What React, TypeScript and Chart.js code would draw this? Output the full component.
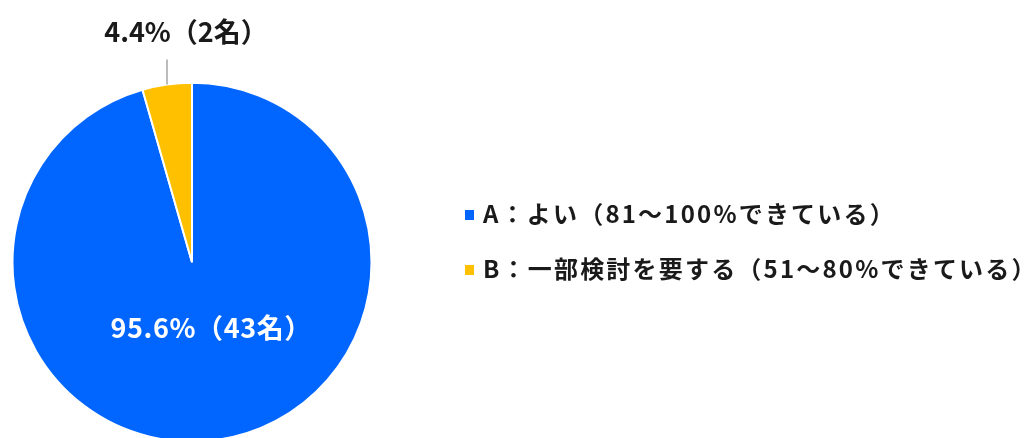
import React, { useEffect, useRef } from "react";
import { Chart, registerables } from "chart.js";

Chart.register(...registerables);

const categories = [
  "A：よい（81～100%できている）",
  "B：一部検討を要する（51～80%できている）",
];
const counts = [43, 2];
const percentLabels = ["95.6%", "4.4%"];
const colors = ["#0066FF", "#FFC000"];

const FONT = "'Noto Sans CJK JP', 'Noto Sans', sans-serif";

const labelPlugin = {
  id: "customLabels",
  afterDraw(chart: any) {
    const ctx = chart.ctx;
    const meta = chart.getDatasetMeta(0);
    ctx.save();
    meta.data.forEach((arc: any, i: number) => {
      const { x, y, startAngle, endAngle, outerRadius } = arc.getProps(
        ["x", "y", "startAngle", "endAngle", "outerRadius"],
        true
      );
      const mid = (startAngle + endAngle) / 2;
      const text = `${percentLabels[i]}（${counts[i]}名）`;
      ctx.font = `bold 27px ${FONT}`;
      ctx.textAlign = "center";
      ctx.textBaseline = "middle";
      if (i === 0) {
        (ctx as any).letterSpacing = "0.6px";
        const r = outerRadius * 0.37;
        ctx.fillStyle = "#FFFFFF";
        ctx.fillText(text, x + Math.cos(mid) * r + 10, y + Math.sin(mid) * r);
      } else {
        (ctx as any).letterSpacing = "0px";
        const lx = x + Math.cos(mid) * outerRadius;
        const ly = y + Math.sin(mid) * outerRadius;
        ctx.strokeStyle = "#A6A6A6";
        ctx.lineWidth = 1.5;
        ctx.beginPath();
        ctx.moveTo(lx, ly);
        ctx.lineTo(lx, ly - 25);
        ctx.stroke();
        ctx.fillStyle = "#1A1A1A";
        ctx.fillText(text, lx + 19, ly - 53);
      }
    });
    // legend
    ctx.font = `bold 24px ${FONT}`;
    (ctx as any).letterSpacing = "2.2px";
    ctx.textAlign = "left";
    ctx.textBaseline = "middle";
    const lx0 = 465;
    const ly0 = 215;
    categories.forEach((c, i) => {
      const yy = ly0 + i * 55;
      ctx.fillStyle = colors[i];
      ctx.fillRect(lx0, yy - 5, 9, 10);
      ctx.fillStyle = "#1A1A1A";
      ctx.fillText(c, lx0 + 18, yy - 1);
    });
    ctx.restore();
  },
};

export default function App() {
  const ref = useRef<HTMLCanvasElement>(null);
  useEffect(() => {
    if (!ref.current) return;
    const chart = new Chart(ref.current, {
      type: "pie",
      data: {
        labels: categories,
        datasets: [
          {
            data: counts,
            backgroundColor: colors,
            borderColor: "#FFFFFF",
            borderWidth: 2,
            hoverOffset: 0,
          },
        ],
      },
      options: {
        animation: false,
        responsive: false,
        maintainAspectRatio: false,
        layout: { padding: { left: 11.5, top: 81.5, right: 1027 - 11.5 - 361, bottom: 0 } },
        plugins: { legend: { display: false }, tooltip: { enabled: false } },
      },
      plugins: [labelPlugin],
    });
    return () => chart.destroy();
  }, []);
  return (
    <div
      style={{
        position: "fixed",
        left: 0,
        top: 0,
        width: 1027,
        height: 438,
        overflow: "hidden",
        background: "#FFFFFF",
      }}
    >
      <canvas ref={ref} width={1027} height={443} style={{ display: "block" }} />
    </div>
  );
}
